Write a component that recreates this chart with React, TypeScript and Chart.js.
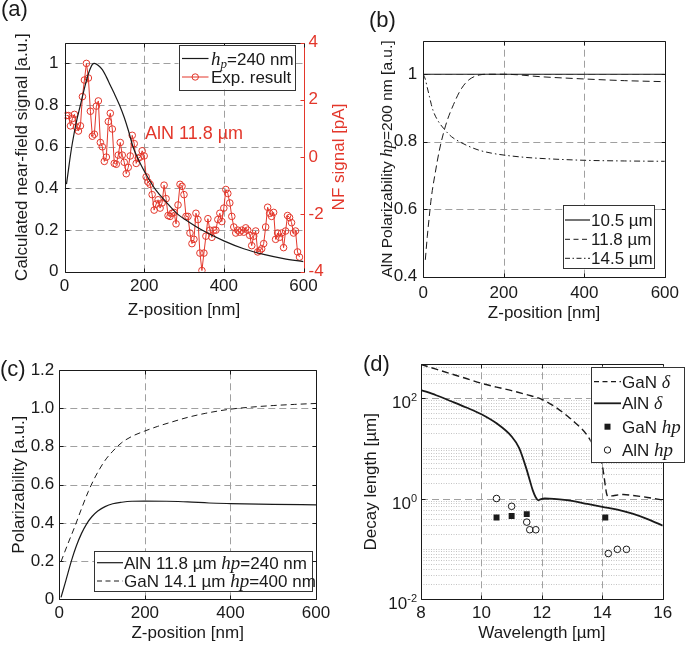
import React, { useEffect, useRef } from 'react';
import { Chart, registerables } from 'chart.js';

Chart.register(...registerables);

const PAGE_W = 685;
const PAGE_H = 645;
const SANS = '"Liberation Sans", Arial, Helvetica, sans-serif';
const SERIF = '"Liberation Serif", "Times New Roman", serif';
const RED = '#e3372b';
const INK = '#1a1a1a';
const GRID = '#a0a0a0';
const MINOR = '#c4c4c4';
const FS = 17;

// ---------------- Panel (a) data ----------------
const aCalcZ = [5, 10, 15, 20, 30, 40, 50, 60, 70, 75, 85, 95, 105, 115, 125, 138, 150, 160, 172, 190, 210, 230, 255, 282, 315, 345, 400, 450, 500, 550, 600];
const aCalcSignal = [0.42, 0.49, 0.56, 0.62, 0.72, 0.8, 0.88, 0.95, 0.995, 1.0, 0.99, 0.97, 0.935, 0.895, 0.855, 0.8, 0.74, 0.68, 0.6, 0.52, 0.45, 0.39, 0.335, 0.28, 0.235, 0.2, 0.148, 0.11, 0.083, 0.063, 0.048];
const aExpStepNm = 5; // sampling step of the measured z-scan (first point at 5 nm)
const aExpSignal = [
  1.45, 1.45, 1.09, 1.35, 1.49, 1.05, 0.91, 1.09, 2.11, 2.69,
  3.27, 2.76, 1.6, 0.73, 0.8, 1.78, 1.96, 0.51, 0.36, -0.15,
  0.0, 1.24, 1.53, 0.98, -0.22, -0.25, 0.07, 0.51, 0.07, -0.18,
  -0.58, -0.36, 0.04, 0.76, 0.47, -0.22, -0.04, 0.0, 0.22, 0.04,
  -0.69, -0.87, -0.95, -1.31, -1.85, -1.64, -1.49, -1.78, -1.6, -0.98,
  -1.45, -2.04, -2.07, -1.96, -1.93, -2.33, -1.67, -0.95, -1.02, -1.31,
  -2.07, -2.07, -2.65, -3.02, -2.87, -1.96, -2.18, -3.35, -3.96, -3.35,
  -2.76, -2.15, -2.55, -2.8, -2.55, -2.55, -2.18, -1.96, -2.25, -1.78,
  -1.13, -1.27, -1.6, -2.07, -2.44, -2.65, -2.55, -2.62, -2.55, -2.62,
  -2.47, -2.55, -2.73, -3.09, -2.76, -2.58, -3.31, -3.27, -3.2, -3.02,
  -2.44, -1.75, -1.96, -2.07, -1.93, -2.87, -2.65, -2.8, -2.65, -3.16,
  -2.58, -2.04, -2.11, -2.29, -2.65, -2.58, -3.31, -3.49,
];
const aXTicks = [0, 200, 400, 600];
const aYTicks = [0, 0.2, 0.4, 0.6, 0.8, 1];
const aY1Ticks = [-4, -2, 0, 2, 4];

// ---------------- Panel (b) data ----------------
const b105Z = [0, 600];
const b105 = [1.0, 1.0];
const b118Z = [5, 10, 15, 20, 30, 40, 50, 60, 75, 90, 105, 120, 140, 160, 200, 300, 400, 500, 600];
const b118 = [0.45, 0.52, 0.58, 0.635, 0.71, 0.775, 0.825, 0.865, 0.91, 0.948, 0.974, 0.989, 0.998, 1.0, 1.0, 0.992, 0.986, 0.981, 0.978];
const b145Z = [0, 5, 10, 15, 20, 25, 35, 50, 70, 90, 110, 138, 170, 203, 250, 300, 400, 500, 600];
const b145 = [1.0, 0.985, 0.96, 0.935, 0.91, 0.89, 0.865, 0.84, 0.815, 0.8, 0.788, 0.775, 0.766, 0.76, 0.754, 0.75, 0.745, 0.743, 0.742];
const bXTicks = [0, 200, 400, 600];
const bYTicks = [0.4, 0.6, 0.8, 1];

// ---------------- Panel (c) data ----------------
const cAlnZ = [4, 15, 29, 40, 52, 64, 76, 90, 107, 125, 146, 170, 199, 250, 300, 350, 400, 500, 600];
const cAln = [0.01, 0.095, 0.206, 0.28, 0.345, 0.395, 0.432, 0.462, 0.485, 0.5, 0.508, 0.513, 0.514, 0.513, 0.51, 0.504, 0.501, 0.497, 0.494];
const cGanZ = [4, 20, 37, 52, 68, 85, 107, 125, 146, 170, 199, 230, 263, 300, 341, 400, 450, 500, 550, 600];
const cGan = [0.197, 0.29, 0.385, 0.475, 0.565, 0.645, 0.727, 0.775, 0.82, 0.853, 0.88, 0.905, 0.928, 0.952, 0.973, 0.995, 1.006, 1.014, 1.02, 1.025];
const cXTicks = [0, 200, 400, 600];
const cYTicks = [0, 0.2, 0.4, 0.6, 0.8, 1.0, 1.2];

// ---------------- Panel (d) data ----------------
const dGanLam = [8, 8.5, 9, 9.5, 10, 10.5, 11, 11.5, 12, 12.5, 13, 13.5, 13.75, 13.9, 14, 14.05, 14.1, 14.15, 14.2, 14.4, 14.7, 15, 15.5, 16];
const dGanDelta = [457, 368, 297, 240, 193, 162, 138, 115, 93, 62, 36, 18, 10, 6.5, 4.5, 3, 1.8, 1.2, 1.1, 1.15, 1.2, 1.15, 1.05, 0.93];
const dAlnLam = [8, 8.5, 9, 9.5, 10, 10.5, 11, 11.25, 11.5, 11.6, 11.7, 11.8, 11.88, 11.95, 12.1, 12.4, 13, 13.5, 14, 14.5, 15, 15.5, 16];
const dAlnDelta = [142, 112, 85, 64, 47, 31, 17, 10, 3.7, 2.3, 1.45, 1.05, 0.92, 0.96, 1.0, 0.98, 0.9, 0.78, 0.68, 0.6, 0.5, 0.39, 0.29];
const dGanHpLam = [10.5, 11.0, 11.5, 14.1];
const dGanHp = [0.42, 0.45, 0.49, 0.42];
const dAlnHpLam = [10.5, 11.0, 11.5, 11.6, 11.8, 14.2, 14.5, 14.8];
const dAlnHp = [1.0, 0.7, 0.34, 0.24, 0.24, 0.081, 0.098, 0.098];
const dXTicks = [8, 10, 12, 14, 16];
const dYTicks = [0.01, 1, 100];
const dYTickExp = ['-2', '0', '2'];

// ---------------- helpers ----------------
type Seg = { t: string; f: string; dy?: number };
type TextItem = { segs: Seg[]; x: number; y: number; color?: string; align?: 'left' | 'center' | 'right'; rot?: boolean };
type LegItem = { color: string; line: boolean; dash?: number[]; lw?: number; marker?: 'circle' | 'square'; segs: Seg[] };
type Legend = { box: [number, number, number, number]; x0: number; x1: number; tx: number; rows: number[]; items: LegItem[] };
type Deco = {
  xGrid: number[];
  yGrid: number[];
  yMinor?: number[];
  xTicks: number[];
  yTicks: number[];
  y1Ticks?: number[];
  rightColor?: string;
  logLabels?: { v: number; exp: string }[];
  legend?: Legend;
  texts?: TextItem[];
};

const sans = (s = FS) => `${s}px ${SANS}`;
const ital = (s = FS + 1) => `italic ${s}px ${SERIF}`;
const tickFont = { family: SANS, size: FS };

function seg(ctx: CanvasRenderingContext2D, x1: number, y1: number, x2: number, y2: number) {
  ctx.beginPath();
  ctx.moveTo(x1, y1);
  ctx.lineTo(x2, y2);
  ctx.stroke();
}

function drawSegs(ctx: CanvasRenderingContext2D, segs: Seg[], x: number, y: number, align: 'left' | 'center' | 'right' = 'left', rot = false) {
  ctx.save();
  ctx.translate(x, y);
  if (rot) ctx.rotate(-Math.PI / 2);
  ctx.textAlign = 'left';
  ctx.textBaseline = 'alphabetic';
  let w = 0;
  for (const s of segs) {
    ctx.font = s.f;
    w += ctx.measureText(s.t).width;
  }
  let cx = align === 'center' ? -w / 2 : align === 'right' ? -w : 0;
  for (const s of segs) {
    ctx.font = s.f;
    ctx.fillText(s.t, cx, s.dy ?? 0);
    cx += ctx.measureText(s.t).width;
  }
  ctx.restore();
}

const px = (v: number) => Math.round(v) + 0.5;

function drawGrid(chart: any, d: Deco) {
  const { ctx, chartArea: ca, scales } = chart;
  const xs = scales.x;
  const ys = scales.y;
  ctx.save();
  ctx.beginPath();
  ctx.rect(ca.left, ca.top, ca.right - ca.left, ca.bottom - ca.top);
  ctx.clip();
  ctx.lineWidth = 1;
  if (d.yMinor) {
    ctx.strokeStyle = MINOR;
    ctx.setLineDash([1, 1.5]);
    for (const v of d.yMinor) {
      const p = px(ys.getPixelForValue(v));
      seg(ctx, ca.left, p, ca.right, p);
    }
  }
  ctx.strokeStyle = GRID;
  ctx.setLineDash([7, 4]);
  for (const v of d.xGrid) {
    const p = px(xs.getPixelForValue(v));
    seg(ctx, p, ca.bottom, p, ca.top);
  }
  for (const v of d.yGrid) {
    const p = px(ys.getPixelForValue(v));
    seg(ctx, ca.left, p, ca.right, p);
  }
  ctx.restore();
}

function drawFrame(chart: any, d: Deco) {
  const { ctx, chartArea: ca, scales } = chart;
  const xs = scales.x;
  const ys = scales.y;
  const L = px(ca.left), R = px(ca.right), T = px(ca.top), B = px(ca.bottom);
  ctx.save();
  ctx.setLineDash([]);
  ctx.lineWidth = 1;
  ctx.strokeStyle = INK;
  seg(ctx, L, T, R, T);
  seg(ctx, L, B, R, B);
  seg(ctx, L, T, L, B);
  ctx.strokeStyle = d.rightColor || INK;
  seg(ctx, R, T, R, B);
  const tl = 4;
  ctx.strokeStyle = INK;
  for (const v of d.xTicks) {
    const p = px(xs.getPixelForValue(v));
    seg(ctx, p, B, p, B - tl);
    seg(ctx, p, T, p, T + tl);
  }
  for (const v of d.yTicks) {
    const p = px(ys.getPixelForValue(v));
    seg(ctx, L, p, L + tl, p);
    if (!d.y1Ticks) seg(ctx, R, p, R - tl, p);
  }
  if (d.y1Ticks) {
    ctx.strokeStyle = d.rightColor || INK;
    for (const v of d.y1Ticks) {
      const p = px(scales.y1.getPixelForValue(v));
      seg(ctx, R, p, R - tl, p);
    }
  }
  if (d.logLabels) {
    ctx.fillStyle = INK;
    for (const lab of d.logLabels) {
      const p = ys.getPixelForValue(lab.v);
      drawSegs(ctx, [{ t: '10', f: sans(FS) }, { t: lab.exp, f: sans(11), dy: -7 }], ca.left - 4, p + 10, 'right');
    }
  }
  if (d.legend) {
    const lg = d.legend;
    const [x1, y1, x2, y2] = lg.box;
    ctx.fillStyle = '#ffffff';
    ctx.fillRect(x1, y1, x2 - x1, y2 - y1);
    ctx.strokeStyle = '#333333';
    ctx.lineWidth = 1;
    ctx.strokeRect(px(x1), px(y1), Math.round(x2 - x1), Math.round(y2 - y1));
    lg.items.forEach((it, i) => {
      const y = lg.rows[i];
      ctx.strokeStyle = it.color;
      ctx.fillStyle = it.color;
      if (it.line) {
        ctx.lineWidth = it.lw ?? 1;
        ctx.setLineDash(it.dash ?? []);
        seg(ctx, lg.x0, y, lg.x1, y);
        ctx.setLineDash([]);
      }
      const mx = (lg.x0 + lg.x1) / 2;
      if (it.marker === 'circle') {
        ctx.lineWidth = 1;
        ctx.beginPath();
        ctx.arc(mx, y, 3.2, 0, Math.PI * 2);
        ctx.stroke();
      } else if (it.marker === 'square') {
        ctx.fillRect(mx - 3, y - 3, 6, 6);
      }
      ctx.fillStyle = INK;
      drawSegs(ctx, it.segs, lg.tx, y + 6, 'left');
    });
  }
  if (d.texts) {
    for (const t of d.texts) {
      ctx.fillStyle = t.color || INK;
      drawSegs(ctx, t.segs, t.x, t.y, t.align || 'left', !!t.rot);
    }
  }
  ctx.restore();
}

function decoPlugin(d: Deco) {
  return {
    id: 'deco',
    beforeDatasetsDraw(chart: any) {
      drawGrid(chart, d);
    },
    afterDatasetsDraw(chart: any) {
      drawFrame(chart, d);
    },
  };
}

const fixedTicks = (vals: number[]) => (scale: any) => {
  scale.ticks = vals.map((v) => ({ value: v }));
};

type Area = { l: number; t: number; r: number; b: number };
function padFor(a: Area, leftW: number, bottomH: number, rightW = 0) {
  return { left: a.l - leftW, top: a.t, right: PAGE_W - a.r - rightW, bottom: PAGE_H - a.b - bottomH };
}

function xScale(min: number, max: number, ticks: number[], title: string, bottomH: number, pad: number) {
  return {
    type: 'linear',
    position: 'bottom',
    min,
    max,
    afterBuildTicks: fixedTicks(ticks),
    afterFit: (s: any) => {
      s.height = bottomH;
    },
    ticks: { font: tickFont, color: INK, padding: pad, maxRotation: 0, autoSkip: false },
    grid: { display: false, drawTicks: false },
    border: { display: false },
    title: { display: true, text: title, font: tickFont, color: INK, padding: 0 },
  };
}

function yScale(opts: any) {
  const { min, max, ticks, title, width, pad, callback, type, display } = opts;
  return {
    type: type || 'linear',
    position: 'left',
    min,
    max,
    afterBuildTicks: fixedTicks(ticks),
    afterFit: (s: any) => {
      s.width = width;
    },
    ticks: { display: display !== false, font: tickFont, color: INK, padding: pad, autoSkip: false, callback: callback || ((v: number) => String(v)) },
    grid: { display: false, drawTicks: false },
    border: { display: false },
    title: title ? { display: true, text: title, font: tickFont, color: INK, padding: 0 } : { display: false },
  };
}

const xy = (xs: number[], ys: number[]) => xs.map((x, i) => ({ x, y: ys[i] }));

const baseOpts = {
  responsive: false,
  animation: false,
  events: [],
};

// ---------------- chart builders ----------------
function buildA() {
  const area = { l: 64.5, t: 42.5, r: 303.5, b: 271.7 };
  const deco: Deco = {
    xGrid: [200, 400],
    yGrid: [0.2, 0.4, 0.6, 0.8, 1],
    xTicks: aXTicks,
    yTicks: aYTicks,
    y1Ticks: aY1Ticks,
    rightColor: RED,
    legend: {
      box: [178.5, 45, 294, 89.5],
      x0: 182,
      x1: 208.5,
      tx: 211,
      rows: [58.5, 77],
      items: [
        { color: INK, line: true, lw: 1.2, segs: [{ t: 'h', f: ital(19) }, { t: 'p', f: ital(13), dy: 3 }, { t: '=240 nm', f: sans() }] },
        { color: RED, line: true, lw: 1, marker: 'circle', segs: [{ t: 'Exp. result', f: sans() }] },
      ],
    },
    texts: [
      { segs: [{ t: '(a)', f: sans(22) }], x: 1, y: 16 },
      { segs: [{ t: 'AlN 11.8 µm', f: sans(18) }], x: 145, y: 138.5, color: RED },
      { segs: [{ t: 'NF signal [pA]', f: sans() }], x: 344, y: 157, rot: true, align: 'center', color: RED },
    ],
  };
  return {
    type: 'line',
    data: {
      datasets: [
        { data: xy(aCalcZ, aCalcSignal), borderColor: INK, borderWidth: 1.2, pointRadius: 0, cubicInterpolationMode: 'monotone', yAxisID: 'y' },
        {
          data: aExpSignal.map((v, i) => ({ x: (i + 1) * aExpStepNm, y: v })),
          borderColor: RED,
          borderWidth: 1,
          pointRadius: 3.3,
          pointBorderColor: RED,
          pointBackgroundColor: 'rgba(0,0,0,0)',
          pointBorderWidth: 1,
          yAxisID: 'y1',
          tension: 0,
        },
      ],
    },
    options: {
      ...baseOpts,
      layout: { padding: padFor(area, 52.5, 48.5, 40) },
      plugins: { legend: { display: false }, tooltip: { enabled: false } },
      scales: {
        x: xScale(0, 600, aXTicks, 'Z-position [nm]', 48.5, 4),
        y: yScale({ min: 0, max: 1.1, ticks: aYTicks, title: 'Calculated near-field signal [a.u.]', width: 52.5, pad: 6 }),
        y1: {
          type: 'linear',
          position: 'right',
          min: -4,
          max: 4,
          afterBuildTicks: fixedTicks(aY1Ticks),
          afterFit: (s: any) => {
            s.width = 40;
          },
          ticks: { font: tickFont, color: RED, padding: 5, autoSkip: false, callback: (v: number) => String(v) },
          grid: { display: false, drawTicks: false },
          border: { display: false },
        },
      },
    },
    plugins: [decoPlugin(deco)],
  };
}

function buildB() {
  const area = { l: 423.3, t: 40.5, r: 669.3, b: 276.7 };
  const deco: Deco = {
    xGrid: [200, 400],
    yGrid: [0.6, 0.8, 1],
    xTicks: bXTicks,
    yTicks: bYTicks,
    legend: {
      box: [562.7, 205, 653.3, 268.3],
      x0: 565,
      x1: 590,
      tx: 591,
      rows: [220, 239.3, 258.3],
      items: [
        { color: INK, line: true, lw: 1.2, segs: [{ t: '10.5 µm', f: sans() }] },
        { color: INK, line: true, lw: 1, dash: [5, 3.5], segs: [{ t: '11.8 µm', f: sans() }] },
        { color: INK, line: true, lw: 1, dash: [5, 2.5, 1.5, 2.5], segs: [{ t: '14.5 µm', f: sans() }] },
      ],
    },
    texts: [
      { segs: [{ t: '(b)', f: sans(22) }], x: 369, y: 27 },
      {
        segs: [{ t: 'AlN Polarizability ', f: sans(15.5) }, { t: 'hp', f: ital(17) }, { t: '=200 nm [a.u.]', f: sans(15.5) }],
        x: 391.5,
        y: 159,
        rot: true,
        align: 'center',
      },
    ],
  };
  return {
    type: 'line',
    data: {
      datasets: [
        { data: xy(b105Z, b105), borderColor: INK, borderWidth: 1.2, pointRadius: 0 },
        { data: xy(b118Z, b118), borderColor: INK, borderWidth: 1, borderDash: [7, 4], pointRadius: 0, cubicInterpolationMode: 'monotone' },
        { data: xy(b145Z, b145), borderColor: INK, borderWidth: 1, borderDash: [6, 3, 1.5, 3], pointRadius: 0, cubicInterpolationMode: 'monotone' },
      ],
    },
    options: {
      ...baseOpts,
      layout: { padding: padFor(area, 47, 46.5) },
      plugins: { legend: { display: false }, tooltip: { enabled: false } },
      scales: {
        x: xScale(0, 600, bXTicks, 'Z-position [nm]', 46.5, 6),
        y: yScale({ min: 0.4, max: 1.1, ticks: bYTicks, width: 47, pad: 6 }),
      },
    },
    plugins: [decoPlugin(deco)],
  };
}

function buildC() {
  const area = { l: 59.3, t: 370, r: 316, b: 599.3 };
  const deco: Deco = {
    xGrid: [200, 400],
    yGrid: [0.2, 0.4, 0.6, 0.8, 1.0],
    xTicks: cXTicks,
    yTicks: cYTicks,
    legend: {
      box: [94.3, 551, 312.3, 590.7],
      x0: 97,
      x1: 123,
      tx: 124,
      rows: [562.7, 581],
      items: [
        { color: INK, line: true, lw: 1.2, segs: [{ t: 'AlN 11.8 µm ', f: sans() }, { t: 'hp', f: ital(19) }, { t: '=240 nm', f: sans() }] },
        { color: INK, line: true, lw: 1, dash: [5, 3.5], segs: [{ t: 'GaN 14.1 µm ', f: sans() }, { t: 'hp', f: ital(19) }, { t: '=400 nm', f: sans() }] },
      ],
    },
    texts: [{ segs: [{ t: '(c)', f: sans(22) }], x: 0, y: 376 }],
  };
  return {
    type: 'line',
    data: {
      datasets: [
        { data: xy(cAlnZ, cAln), borderColor: INK, borderWidth: 1.2, pointRadius: 0, cubicInterpolationMode: 'monotone' },
        { data: xy(cGanZ, cGan), borderColor: INK, borderWidth: 1, borderDash: [6, 4], pointRadius: 0, cubicInterpolationMode: 'monotone' },
      ],
    },
    options: {
      ...baseOpts,
      layout: { padding: padFor(area, 50, 44.2) },
      plugins: { legend: { display: false }, tooltip: { enabled: false } },
      scales: {
        x: xScale(0, 600, cXTicks, 'Z-position [nm]', 44.2, 4),
        y: yScale({
          min: 0,
          max: 1.2,
          ticks: cYTicks,
          title: 'Polarizability [a.u.]',
          width: 50,
          pad: 5,
          callback: (v: number) => (v === 0 ? '0' : v.toFixed(1)),
        }),
      },
    },
    plugins: [decoPlugin(deco)],
  };
}

function buildD() {
  const area = { l: 421, t: 364.3, r: 662.7, b: 599.3 };
  const minor: number[] = [];
  for (let k = -2; k <= 2; k++) {
    for (let m = 2; m <= 9; m++) {
      const v = m * Math.pow(10, k);
      if (v < 460) minor.push(v);
    }
  }
  minor.push(0.1, 10);
  const deco: Deco = {
    xGrid: [10, 12, 14],
    yGrid: [1, 100],
    yMinor: minor,
    xTicks: dXTicks,
    yTicks: dYTicks,
    logLabels: dYTicks.map((v, i) => ({ v, exp: dYTickExp[i] })),
    legend: {
      box: [590.7, 366.7, 683.3, 462],
      x0: 594,
      x1: 621,
      tx: 622,
      rows: [381.7, 403.3, 426.7, 450],
      items: [
        { color: INK, line: true, lw: 1.3, dash: [5, 3.5], segs: [{ t: 'GaN ', f: sans() }, { t: 'δ', f: ital(18) }] },
        { color: INK, line: true, lw: 1.8, segs: [{ t: 'AlN ', f: sans() }, { t: 'δ', f: ital(18) }] },
        { color: INK, line: false, marker: 'square', segs: [{ t: 'GaN ', f: sans() }, { t: 'hp', f: ital(19) }] },
        { color: INK, line: false, marker: 'circle', segs: [{ t: 'AlN ', f: sans() }, { t: 'hp', f: ital(19) }] },
      ],
    },
    texts: [{ segs: [{ t: '(d)', f: sans(22) }], x: 363, y: 371 }],
  };
  return {
    type: 'line',
    data: {
      datasets: [
        { data: xy(dGanHpLam, dGanHp), showLine: false, pointStyle: 'rect', pointRadius: 4.2, pointBackgroundColor: INK, pointBorderColor: INK, pointBorderWidth: 0 },
        { data: xy(dAlnHpLam, dAlnHp), showLine: false, pointStyle: 'circle', pointRadius: 3.3, pointBackgroundColor: 'rgba(0,0,0,0)', pointBorderColor: INK, pointBorderWidth: 1 },
        { data: xy(dGanLam, dGanDelta), borderColor: INK, borderWidth: 1.4, borderDash: [7, 4], pointRadius: 0, cubicInterpolationMode: 'monotone' },
        { data: xy(dAlnLam, dAlnDelta), borderColor: INK, borderWidth: 1.8, pointRadius: 0, cubicInterpolationMode: 'monotone' },
      ],
    },
    options: {
      ...baseOpts,
      layout: { padding: padFor(area, 59.5, 44.2) },
      plugins: { legend: { display: false }, tooltip: { enabled: false } },
      scales: {
        x: xScale(8, 16, dXTicks, 'Wavelength [µm]', 44.2, 4),
        y: yScale({ type: 'logarithmic', min: 0.01, max: 460, ticks: dYTicks, title: 'Decay length [µm]', width: 59.5, pad: 4, display: false }),
      },
    },
    plugins: [decoPlugin(deco)],
  };
}

function Panel({ build }: { build: () => any }) {
  const ref = useRef<HTMLCanvasElement>(null);
  useEffect(() => {
    if (!ref.current) return;
    const chart = new Chart(ref.current, build());
    return () => chart.destroy();
  }, []);
  return (
    <canvas
      ref={ref}
      width={PAGE_W}
      height={PAGE_H}
      style={{ position: 'absolute', left: 0, top: 0, width: PAGE_W, height: PAGE_H }}
    />
  );
}

export default function App() {
  return (
    <div style={{ position: 'absolute', left: 0, top: 0, width: PAGE_W, height: PAGE_H, background: '#ffffff', overflow: 'hidden' }}>
      <Panel build={buildA} />
      <Panel build={buildB} />
      <Panel build={buildC} />
      <Panel build={buildD} />
    </div>
  );
}
